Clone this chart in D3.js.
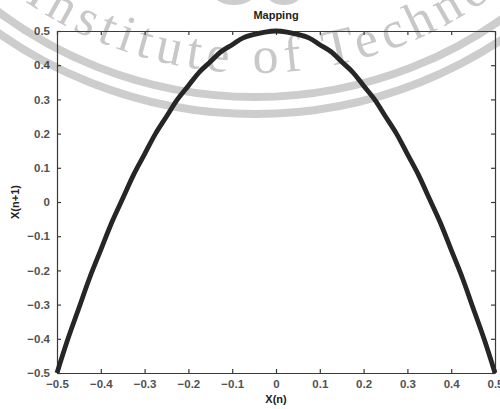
<!DOCTYPE html>
<html>
<head>
<meta charset="utf-8">
<script src="https://cdn.jsdelivr.net/npm/d3@7/dist/d3.min.js"></script>
<style>
  html, body { margin: 0; padding: 0; background: #fff; }
  svg { display: block; }
</style>
</head>
<body>
<svg id="chart" width="500" height="409"></svg>
<script>
// ---- data ----
const titleText = "Mapping";
const xLabelText = "X(n)";
const yLabelText = "X(n+1)";
const xTicks = [-0.5, -0.4, -0.3, -0.2, -0.1, 0, 0.1, 0.2, 0.3, 0.4, 0.5];
const yTicks = [-0.5, -0.4, -0.3, -0.2, -0.1, 0, 0.1, 0.2, 0.3, 0.4, 0.5];
const xn  = [-0.5, -0.475, -0.45, -0.425, -0.4, -0.375, -0.35, -0.325, -0.3, -0.275, -0.25, -0.225, -0.2, -0.175, -0.15, -0.125, -0.1, -0.075, -0.05, -0.025, 0,
             0.025, 0.05, 0.075, 0.1, 0.125, 0.15, 0.175, 0.2, 0.225, 0.25, 0.275, 0.3, 0.325, 0.35, 0.375, 0.4, 0.425, 0.45, 0.475, 0.5];
const xn1 = [-0.5, -0.40, -0.31, -0.22, -0.14, -0.06, 0.01, 0.08, 0.14, 0.20, 0.25, 0.30, 0.34, 0.38, 0.41, 0.44, 0.46, 0.48, 0.49, 0.497, 0.5,
             0.497, 0.49, 0.48, 0.46, 0.44, 0.41, 0.38, 0.34, 0.30, 0.25, 0.20, 0.14, 0.08, 0.01, -0.06, -0.14, -0.22, -0.31, -0.40, -0.5];
const watermarkText = "Institute of Technology";

// ---- layout ----
const W = 500, H = 409;
const m = { left: 57, right: 5, top: 31, bottom: 36 };
const svg = d3.select("#chart");

// ---- watermark (behind) ----
const wm = svg.append("g");
const cx = 255, cy = -332;
const wmColor = "#cdcdcd";
[429, 446].forEach(r => {
  wm.append("circle").attr("cx", cx).attr("cy", cy).attr("r", r)
    .attr("fill", "none").attr("stroke", wmColor).attr("stroke-width", 8);
});
const rt = 405;
wm.append("path").attr("id", "wmpath")
  .attr("d", `M ${cx - rt} ${cy} A ${rt} ${rt} 0 0 0 ${cx + rt} ${cy}`)
  .attr("fill", "none");
const wmText = wm.append("text")
  .attr("font-family", "Liberation Serif, DejaVu Serif, serif")
  .attr("font-size", 52)
  .attr("letter-spacing", 6)
  .attr("fill", "#c8c8c8");
const tp = wmText.append("textPath")
  .attr("href", "#wmpath")
  .attr("text-anchor", "start")
  .attr("startOffset", 0)
  .text(watermarkText);
// place the "o" of "of" near x = 253
const prefixLen = wmText.node().getSubStringLength(0, watermarkText.indexOf("of"));
const thetaO = Math.asin((253 - cx) / rt);
tp.attr("startOffset", rt * (Math.PI / 2 + thetaO) - prefixLen);
// top logo fragments
wm.append("ellipse").attr("cx", 234).attr("cy", -6).attr("rx", 20).attr("ry", 11).attr("fill", wmColor);
wm.append("ellipse").attr("cx", 284).attr("cy", -6).attr("rx", 17).attr("ry", 11).attr("fill", wmColor);

// ---- scales ----
const x = d3.scaleLinear().domain([-0.5, 0.5]).range([m.left, W - m.right]);
const y = d3.scaleLinear().domain([-0.5, 0.5]).range([H - m.bottom, m.top]);

const fmt = d => (d === 0 ? "0" : d3.format(".1f")(d));
const tickColor = "#3a3a3a";

const g = svg.append("g");

// axes (ticks inward on all four sides)
const axB = g.append("g").attr("transform", `translate(0,${y(-0.5)})`)
  .call(d3.axisBottom(x).tickValues(xTicks).tickSizeInner(-4).tickSizeOuter(0).tickPadding(7).tickFormat(fmt));
const axT = g.append("g").attr("transform", `translate(0,${y(0.5)})`)
  .call(d3.axisTop(x).tickValues(xTicks).tickSizeInner(-4).tickSizeOuter(0).tickFormat(""));
const axL = g.append("g").attr("transform", `translate(${x(-0.5)},0)`)
  .call(d3.axisLeft(y).tickValues(yTicks).tickSizeInner(-4).tickSizeOuter(0).tickPadding(7).tickFormat(fmt));
const axR = g.append("g").attr("transform", `translate(${x(0.5)},0)`)
  .call(d3.axisRight(y).tickValues(yTicks).tickSizeInner(-4).tickSizeOuter(0).tickFormat(""));

[axB, axT, axL, axR].forEach(a => {
  a.select(".domain").attr("stroke", tickColor).attr("stroke-width", 1.2);
  a.selectAll(".tick line").attr("stroke", tickColor).attr("stroke-width", 1.2);
  a.selectAll(".tick text").attr("fill", "#333")
    .attr("font-family", "Liberation Sans, Arial, sans-serif")
    .attr("font-size", 11.5).attr("font-weight", "bold").attr("opacity", 0.85);
});

// ---- curve ----
const pts = xn.map((v, i) => [v, xn1[i]]);
g.append("path")
  .datum(pts)
  .attr("fill", "none")
  .attr("stroke", "#262626")
  .attr("stroke-width", 4.8)
  .attr("stroke-linejoin", "round")
  .attr("d", d3.line().x(d => x(d[0])).y(d => y(d[1])).curve(d3.curveCatmullRom));

// ---- titles ----
const cxPlot = (x(-0.5) + x(0.5)) / 2;
svg.append("text").attr("x", cxPlot).attr("y", 19)
  .attr("text-anchor", "middle").attr("font-family", "Liberation Sans, Arial, sans-serif")
  .attr("font-size", 11).attr("font-weight", "bold").attr("fill", "#222").text(titleText);
svg.append("text").attr("x", cxPlot).attr("y", 403)
  .attr("text-anchor", "middle").attr("font-family", "Liberation Sans, Arial, sans-serif")
  .attr("font-size", 11).attr("font-weight", "bold").attr("fill", "#222").text(xLabelText);
svg.append("text").attr("transform", `translate(19,${(y(-0.5) + y(0.5)) / 2}) rotate(-90)`)
  .attr("text-anchor", "middle").attr("font-family", "Liberation Sans, Arial, sans-serif")
  .attr("font-size", 11).attr("font-weight", "bold").attr("fill", "#222").text(yLabelText);
</script>
</body>
</html>
